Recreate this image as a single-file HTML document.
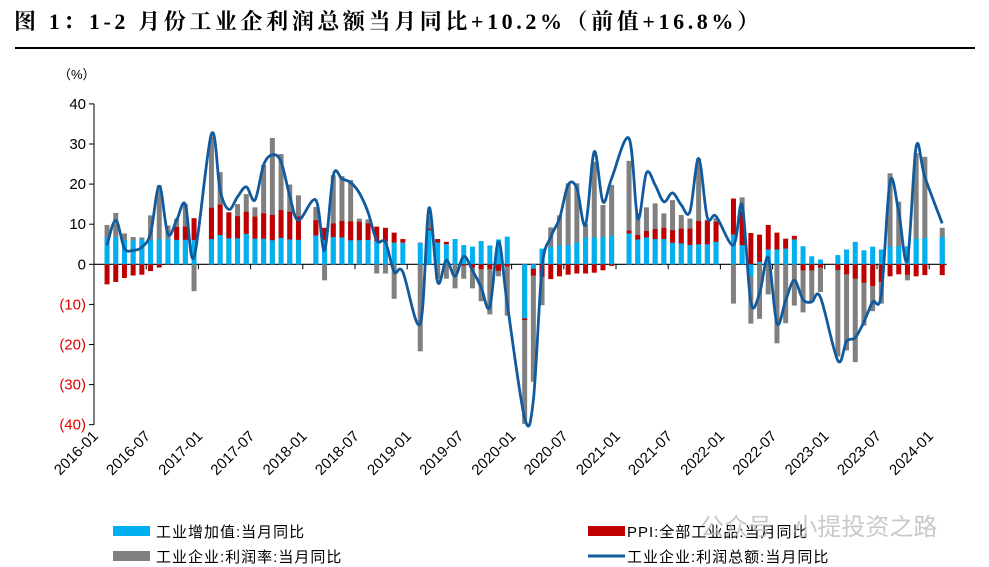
<!DOCTYPE html>
<html><head><meta charset="utf-8">
<style>
html,body{margin:0;padding:0;background:#fff;}
body{width:989px;height:567px;overflow:hidden;position:relative;font-family:"Liberation Sans","Noto Sans CJK SC",sans-serif;}
</style></head>
<body>
<svg id="chart" width="989" height="567" xmlns="http://www.w3.org/2000/svg" style="position:absolute;left:0;top:0">
<text x="14" y="29" font-family="'Liberation Serif','Noto Serif CJK SC',serif" font-weight="bold" font-size="22" letter-spacing="3.6" fill="#000">图 1：1-2 月份工业企利润总额当月同比+10.2%（前值+16.8%）</text>
<line x1="15" y1="48" x2="975" y2="48" stroke="#000" stroke-width="2"/>
<text x="58" y="79" font-size="13" fill="#000" font-family="'Liberation Sans','Noto Sans CJK SC',sans-serif">（%）</text>
<g id="axes"></g>
<g id="marks"></g>
<g id="legend">
<rect x="113" y="526" width="37" height="10" fill="#00B0F0"/>
<text x="156" y="537" font-size="15" letter-spacing="1" fill="#000">工业增加值:当月同比</text>
<rect x="588" y="526" width="37" height="10" fill="#C00000"/>
<text x="627" y="537" font-size="15" letter-spacing="1" fill="#000">PPI:全部工业品:当月同比</text>
<rect x="113" y="551" width="37" height="10" fill="#808080"/>
<text x="156" y="562" font-size="15" letter-spacing="1" fill="#000">工业企业:利润率:当月同比</text>
<line x1="588" y1="556" x2="625" y2="556" stroke="#115A9E" stroke-width="3"/>
<text x="627" y="562" font-size="15" letter-spacing="1" fill="#000">工业企业:利润总额:当月同比</text>
</g>
<text x="700" y="535" font-size="24" fill="#bbbbbb" fill-opacity="0.8">公众号 · 小提投资之路</text>
</svg>
<script>
// month index 0 = 2016-01 ... 97 = 2024-02 ; null = January (no data)
const months = [];
for (let y=2016;y<=2024;y++) for (let m=1;m<=12;m++) { if (months.length<98) months.push(y+'-'+String(m).padStart(2,'0')); }
const iva = [null,6.7,6.8,6.0,6.0,6.2,6.0,6.3,6.3,6.1,6.1,6.0,
 null,6.3,7.3,6.5,6.5,7.6,6.4,6.4,6.0,6.6,6.2,6.1,
 null,7.2,6.0,6.8,6.7,6.0,6.0,6.1,5.8,5.8,5.4,5.4,
 null,5.3,8.5,5.4,5.0,6.3,4.8,4.4,5.8,4.7,6.2,6.9,
 null,-13.5,-1.1,3.9,4.3,4.8,4.8,5.4,6.7,6.7,6.8,7.1,
 null,7.7,6.2,6.7,6.3,6.3,5.4,5.2,4.8,5.0,5.0,5.6,
 null,7.4,4.8,-3.0,0.6,3.7,3.7,3.9,6.2,4.5,2.0,1.2,
 null,2.3,3.7,5.6,3.5,4.4,3.7,4.5,4.5,4.5,6.4,6.6,
 null,6.8];
const ppi = [null,-5.0,-4.4,-3.4,-2.8,-2.6,-1.7,-0.8,-0.1,3.2,3.3,5.5,
 null,7.8,7.6,6.4,5.5,5.5,5.5,6.3,6.3,6.9,6.9,5.8,
 null,3.8,3.1,3.4,4.1,4.7,4.6,4.1,3.6,3.3,2.5,0.9,
 null,0.1,0.4,0.9,0.6,0.0,-0.3,-0.8,-1.2,-1.2,-1.6,-0.5,
 null,-0.4,-1.7,-3.1,-3.7,-3.0,-2.6,-2.3,-2.3,-2.1,-1.5,-0.4,
 null,0.7,1.1,1.6,2.5,2.8,3.1,3.7,4.1,5.8,6.0,5.0,
 null,9.0,8.3,7.8,6.8,6.1,4.2,2.5,0.9,-1.5,-1.5,-0.8,
 null,-1.4,-2.5,-3.6,-4.6,-5.4,-4.4,-3.0,-2.5,-2.6,-3.0,-2.7,
 null,-2.7];
const margin = [null,9.8,12.8,7.7,6.8,6.7,12.2,19.7,9.7,11.4,15.0,-6.7,
 null,31.8,23.0,13.0,15.0,17.5,14.2,24.8,31.5,27.5,19.9,17.2,
 null,14.3,-4.0,22.2,22.0,21.0,11.4,11.2,-2.3,-2.3,-8.6,0.0,
 null,-21.7,12.0,-3.6,-3.6,-6.0,-3.6,-6.0,-9.2,-12.5,-3.0,-12.8,
 null,-39.8,-29.3,-10.2,9.2,12.2,20.2,20.2,10.0,25.6,14.8,19.8,
 null,25.8,12.7,14.2,15.2,12.7,16.0,12.3,11.4,26.4,10.8,11.5,
 null,-9.8,16.7,-14.8,-13.6,-7.5,-19.7,-14.7,-10.3,-12.0,-9.4,-6.9,
 null,-23.0,-21.5,-24.4,-15.3,-11.7,-9.8,22.7,15.6,-4.0,27.7,26.8,
 null,9.1];
const profit = [null,4.8,11.0,4.0,3.5,4.3,7.7,19.5,7.5,11.0,15.0,1.8,
 null,32.5,18.5,13.7,16.8,19.3,16.0,24.8,27.3,25.6,17.0,11.0,
 null,16.0,3.5,22.2,21.3,20.4,17.8,13.0,5.9,5.5,-1.9,-1.9,
 null,-14.8,14.0,-4.4,1.0,-3.0,2.0,-1.5,-5.7,-10.7,5.6,-9.8,
 null,-38.3,-34.0,-1.0,6.8,11.4,19.8,19.0,9.8,28.1,15.6,21.4,
 null,31.4,11.4,22.8,19.8,15.6,17.8,14.8,13.1,26.4,11.7,12.0,
 null,4.8,14.8,-9.4,-7.3,1.7,-14.7,-9.0,-4.0,-8.8,-9.4,-8.2,
 null,-24.0,-19.2,-18.3,-14.4,-9.4,-7.5,20.6,13.1,1.0,29.3,21.8,
 null,10.2];
const yTicks = [40,30,20,10,0,-10,-20,-30,-40];
const yTickLabels = ['40','30','20','10','0','(10)','(20)','(30)','(40)'];
const xTickLabels = ['2016-01','2016-07','2017-01','2017-07','2018-01','2018-07','2019-01','2019-07','2020-01','2020-07','2021-01','2021-07','2022-01','2022-07','2023-01','2023-07','2024-01'];

const NS='http://www.w3.org/2000/svg';
const X0=94, DX=8.7, Y0=264.3, PY=4.01;
function xTick(i){return X0+i*DX;}
function xC(i){return X0+(i+0.5)*DX;}
function yS(v){return Y0 - v*PY;}
function mk(tag,attrs,parent){const e=document.createElementNS(NS,tag);for(const k in attrs)e.setAttribute(k,attrs[k]);parent.appendChild(e);return e;}
const axes=document.getElementById('axes'), marks=document.getElementById('marks');

let ya=mk('line',{x1:X0,y1:yS(40),x2:X0,y2:yS(-40),stroke:'#000','stroke-width':1},axes);


yTicks.forEach((v,k)=>{
  let t=mk('line',{x1:X0-5,y1:yS(v),x2:X0,y2:yS(v),stroke:'#000','stroke-width':1},axes);
  
  
  let l=mk('text',{x:X0-26+18,y:yS(v)+5,'text-anchor':'end','font-size':15,fill:v<0?'#E00000':'#000'},axes);
  l.textContent=yTickLabels[k];
  
  
});

const bw=5;
margin.forEach((v,i)=>{
  if(v==null)return;
  let r=mk('rect',{x:xC(i)-bw/2,y:Math.min(yS(v),Y0),width:bw,height:Math.abs(yS(v)-Y0),fill:'#808080'},marks);
  
  
});
iva.forEach((v,i)=>{
  if(v==null)return;
  let r=mk('rect',{x:xC(i)-bw/2,y:Math.min(yS(v),Y0),width:bw,height:Math.abs(yS(v)-Y0),fill:'#00B0F0'},marks);
  
  
  const p=ppi[i];
  let base = (p>=0) ? Math.max(v,0) : Math.min(v,0);
  let top=base+p;
  let r2=mk('rect',{x:xC(i)-bw/2,y:Math.min(yS(base),yS(top)),width:bw,height:Math.abs(yS(top)-yS(base)),fill:'#C00000'},marks);
  
  
});

let xa=mk('line',{x1:X0,y1:Y0,x2:xTick(98),y2:Y0,stroke:'#000','stroke-width':1.2},axes);


xTickLabels.forEach((s,k)=>{
  const i=k*6, x=xTick(i);
  let t=mk('line',{x1:x,y1:Y0,x2:x,y2:Y0+5,stroke:'#000','stroke-width':1},axes);
  
  
  let l=mk('text',{x:x+5,y:437,'text-anchor':'end','font-size':15,fill:'#000',transform:'rotate(-45 '+(x+5)+' 437)'},axes);
  l.textContent=s;
  
  
});

const pts=[];
profit.forEach((v,i)=>{if(v!=null)pts.push([xC(i),yS(v)]);});
let d='M'+pts[0][0].toFixed(1)+','+pts[0][1].toFixed(1);
for(let k=0;k<pts.length-1;k++){
  const p0=pts[Math.max(k-1,0)],p1=pts[k],p2=pts[k+1],p3=pts[Math.min(k+2,pts.length-1)];
  const t=1/6;
  const c1=[p1[0]+(p2[0]-p0[0])*t,p1[1]+(p2[1]-p0[1])*t];
  const c2=[p2[0]-(p3[0]-p1[0])*t,p2[1]-(p3[1]-p1[1])*t];
  d+=' C'+c1[0].toFixed(1)+','+c1[1].toFixed(1)+' '+c2[0].toFixed(1)+','+c2[1].toFixed(1)+' '+p2[0].toFixed(1)+','+p2[1].toFixed(1);
}
let ln=mk('path',{d:d,fill:'none',stroke:'#115A9E','stroke-width':2.8,'stroke-linejoin':'round'},marks);


</script>
</body></html>
